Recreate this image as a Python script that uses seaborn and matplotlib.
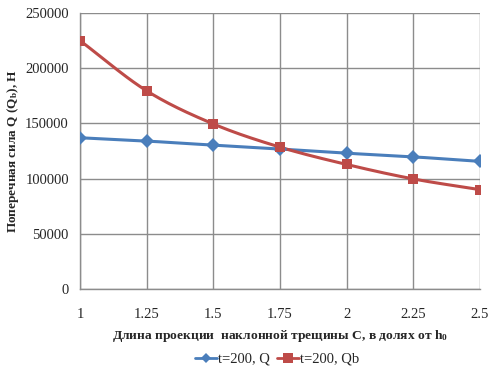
import numpy as np
import pandas as pd
import matplotlib
matplotlib.use("Agg")
import matplotlib.pyplot as plt
import seaborn as sns
from matplotlib.lines import Line2D

x_vals = [1, 1.25, 1.5, 1.75, 2, 2.25, 2.5]
q_vals = [137000, 134000, 130300, 126800, 123000, 119700, 115600]
qb_vals = [225000, 179500, 149500, 128500, 112800, 99700, 90000]
series_names = ["t=200, Q", "t=200, Qb"]
y_ticks = [0, 50000, 100000, 150000, 200000, 250000]
x_ticks = [1, 1.25, 1.5, 1.75, 2, 2.25, 2.5]
x_tick_labels = ["1", "1.25", "1.5", "1.75", "2", "2.25", "2.5"]

sns.set_style("white")
plt.rcParams["font.family"] = ["Liberation Serif", "DejaVu Serif"]
plt.rcParams["mathtext.fontset"] = "custom"
plt.rcParams["mathtext.rm"] = "Liberation Serif"
plt.rcParams["mathtext.bf"] = "Liberation Serif:bold"
plt.rcParams["mathtext.it"] = "Liberation Serif:italic"

blue = "#4A7EBB"
red = "#BE4B48"

df = pd.DataFrame({
    "x": x_vals * 2,
    "y": q_vals + qb_vals,
    "s": [series_names[0]] * len(x_vals) + [series_names[1]] * len(x_vals),
})

fig = plt.figure(figsize=(4.97, 3.78), dpi=100)
ax = fig.add_axes([80/497, 1-289/378, 400/497, 276/378])


def catmull(xs, ys, n=30):
    xs = np.asarray(xs, float); ys = np.asarray(ys, float)
    px = np.concatenate([[2*xs[0]-xs[1]], xs, [2*xs[-1]-xs[-2]]])
    py = np.concatenate([[2*ys[0]-ys[1]], ys, [2*ys[-1]-ys[-2]]])
    ox, oy = [], []
    for i in range(1, len(px)-2):
        t = np.linspace(0, 1, n, endpoint=False)
        for p, o in ((px, ox), (py, oy)):
            p0, p1, p2, p3 = p[i-1], p[i], p[i+1], p[i+2]
            o.extend(0.5*((2*p1) + (-p0+p2)*t + (2*p0-5*p1+4*p2-p3)*t**2 + (-p0+3*p1-3*p2+p3)*t**3))
    ox.append(xs[-1]); oy.append(ys[-1])
    return np.array(ox), np.array(oy)

cx, cy = catmull(x_vals, q_vals)
ax.plot(cx, cy, color=blue, lw=2.2, zorder=3)
cx, cy = catmull(x_vals, qb_vals)
ax.plot(cx, cy, color=red, lw=2.2, zorder=3)

sns.lineplot(data=df, x="x", y="y", hue="s", style="s",
             palette=[blue, red], markers=["D", "s"], dashes=False,
             markersize=7, markeredgewidth=0, linewidth=0, ax=ax, zorder=4,
             legend=False)

ax.set_xlim(1, 2.5)
ax.set_ylim(0, 250000)
ax.set_xticks(x_ticks)
ax.set_xticklabels(x_tick_labels)
ax.set_yticks(y_ticks)
ax.grid(True, color="#8C8C8C", lw=1.0)
for s in ["top", "right"]:
    ax.spines[s].set_visible(False)
for s in ["left", "bottom"]:
    ax.spines[s].set_color("#8C8C8C")
    ax.spines[s].set_linewidth(1.0)
ax.tick_params(axis="both", length=3.5, width=1, color="#8C8C8C", labelsize=10.5)
ax.tick_params(axis="y", pad=4.5)
ax.tick_params(axis="x", pad=10)
ax.set_xlabel("Длина проекции  наклонной трещины С, в долях от $\\mathbf{h_0}$",
              fontsize=9.7, fontweight="bold")
ax.set_ylabel("Поперечная сила Q ($\\mathbf{Q_b}$), Н", fontsize=9.5,
              fontweight="bold")
ax.xaxis.set_label_coords(0.5, (289-328)/276)
ax.yaxis.set_label_coords((21-80)/400, 0.5)

handles = [Line2D([], [], color=blue, lw=2.0, marker="D", markersize=5, markeredgewidth=0),
           Line2D([], [], color=red, lw=2.0, marker="s", markersize=7, markeredgewidth=0)]
fig.legend(handles, series_names, loc="center", bbox_to_anchor=(277/497, 1-359/378),
           ncol=2, frameon=False, prop={"family": "Liberation Serif", "size": 10.5},
           handlelength=1.5, handletextpad=0.05, columnspacing=0.5)

fig.savefig("out.png", dpi=100)
